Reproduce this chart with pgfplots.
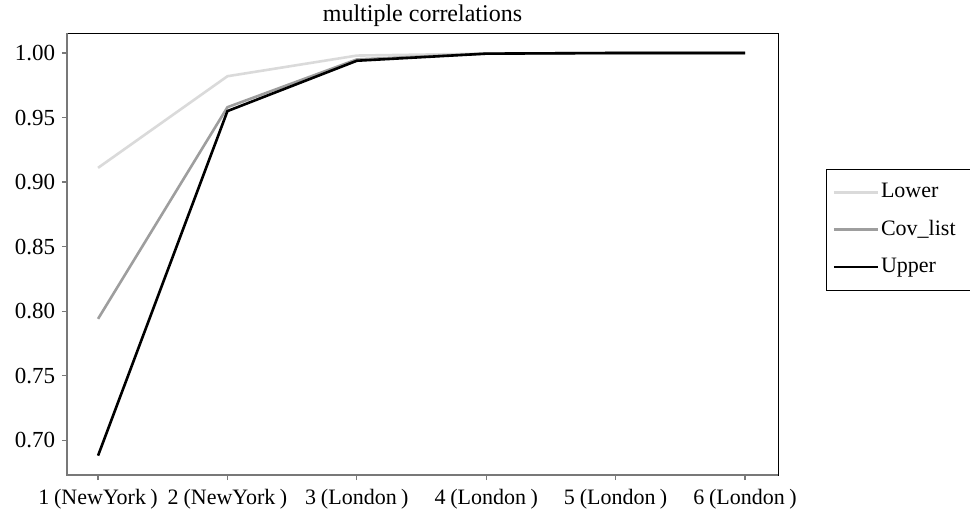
\documentclass[border=0pt]{standalone}
\usepackage{fontspec}
\setmainfont{Liberation Serif}
\usepackage{pgfplots}
\pgfplotsset{compat=1.18}
\definecolor{lowergray}{RGB}{218,218,218}
\definecolor{covgray}{RGB}{158,158,158}
\definecolor{framegray}{RGB}{120,120,120}
% city in brackets after the run number
\newcommand{\run}[2]{#1\kern0.22em(#2\kern0.2em)}
\begin{document}
\fontsize{23bp}{27bp}\selectfont
\begin{tikzpicture}
\path[use as bounding box] (0,0) rectangle (970bp,514bp);
\begin{axis}[
  at={(67bp,39bp)}, anchor=south west,
  scale only axis, width=711bp, height=442bp,
  xmin=0.76, xmax=6.255, ymin=0.673, ymax=1.0155,
  xtick={1,2,3,4,5,6},
  xticklabels={\run{1}{NewYork}, \run{2}{NewYork}, \run{3}{London}, \run{4}{London}, \run{5}{London}, \run{6}{London}},
  ytick={0.70,0.75,0.80,0.85,0.90,0.95,1.00},
  yticklabel style={xshift=1bp, font=\fontsize{23bp}{27bp}\selectfont,
    /pgf/number format/.cd, fixed, fixed zerofill, precision=2, assume math mode=true},
  tick align=outside, major tick length=5bp,
  tick style={framegray, line width=1.2bp},
  xtick pos=bottom, ytick pos=left,
  xticklabel style={yshift=-1bp, font=\fontsize{22bp}{26bp}\selectfont},
  axis line style={black, line width=0.9bp},
  title={multiple correlations},
  title style={font=\fontsize{24bp}{28bp}\selectfont, at={(0.5,1)}, anchor=base, yshift=6bp},
  legend style={at={(rel axis cs:1.0675,0.692)}, anchor=north west, draw=black, line width=0.9bp,
    font=\fontsize{22bp}{26bp}\selectfont, row sep=15bp, inner xsep=6bp, inner ysep=12bp,
    /tikz/every even column/.append style={column sep=1bp}},
  legend cell align=left,
  legend image code/.code={\draw[#1] (0bp,0bp) -- (44bp,0bp);},
  clip=false,
]
\addplot[lowergray, line width=2.6bp] coordinates {(1,0.911) (2,0.982) (3,0.998) (4,0.9995) (5,1.0) (6,1.0)};
\addlegendentry{\makebox[95bp][l]{Lower}}
\addplot[covgray, line width=2.6bp] coordinates {(1,0.794) (2,0.958) (3,0.995) (4,0.9995) (5,1.0) (6,1.0)};
\addlegendentry{\makebox[95bp][l]{Cov\_list}}
\addplot[black, line width=2.6bp] coordinates {(1,0.688) (2,0.955) (3,0.994) (4,0.9995) (5,1.0) (6,1.0)};
\addlegendentry{\makebox[95bp][l]{Upper}}
\draw[framegray, line width=2.2bp] (rel axis cs:0,1) -- (rel axis cs:0,0) -- (rel axis cs:1,0);
\end{axis}
\end{tikzpicture}
\end{document}
